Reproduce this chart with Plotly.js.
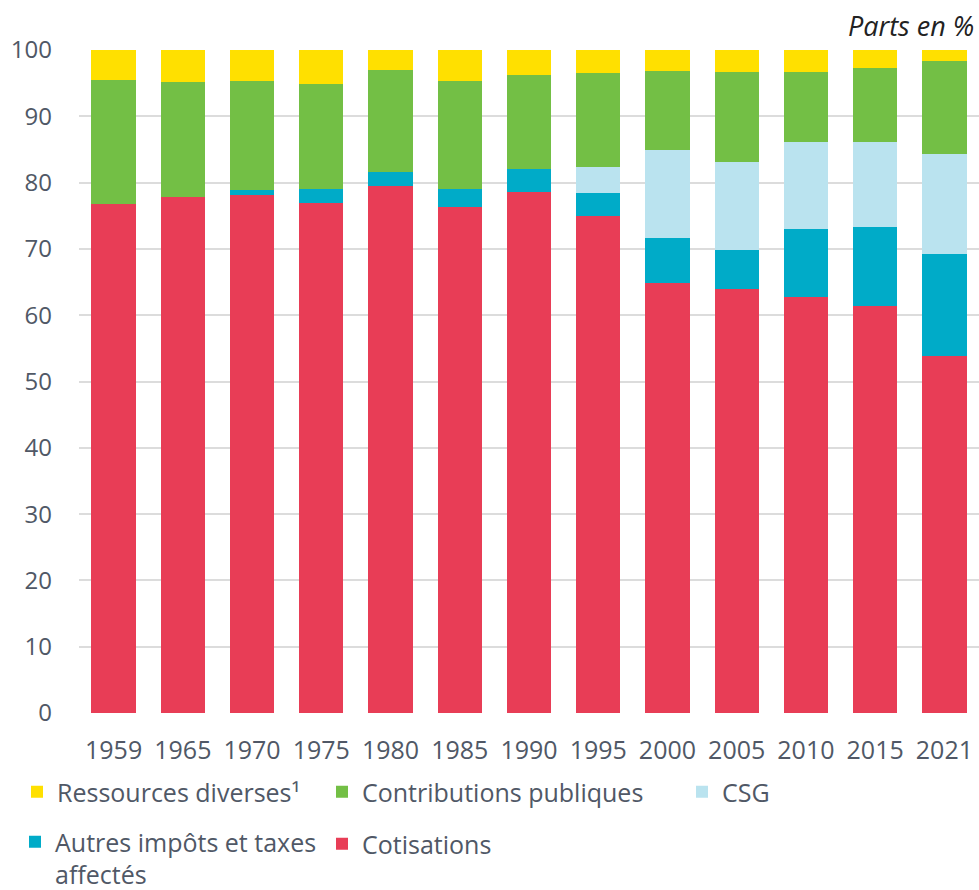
<!DOCTYPE html>
<html>
<head>
<meta charset="utf-8">
<script src="https://cdn.plot.ly/plotly-3.0.1.min.js"></script>
<style>html,body{margin:0;padding:0;background:#fff;}#chart{width:979px;height:890px;}</style>
</head>
<body>
<div id="chart"></div>
<script>
var years = ['1959','1965','1970','1975','1980','1985','1990','1995','2000','2005','2010','2015','2021'];
var cotisations = [76.7, 77.9, 78.1, 76.9, 79.5, 76.3, 78.6, 74.9, 64.9, 64.0, 62.7, 61.4, 53.9];
var autresImpots = [0, 0, 0.8, 2.2, 2.1, 2.8, 3.4, 3.5, 6.7, 5.9, 10.3, 11.9, 15.4];
var csg = [0, 0, 0, 0, 0, 0, 0, 4.0, 13.3, 13.2, 13.1, 12.8, 15.0];
var contributionsPubliques = [18.8, 17.2, 16.5, 15.8, 15.4, 16.3, 14.3, 14.1, 11.9, 13.6, 10.6, 11.2, 14.0];
var ressourcesDiverses = [4.5, 4.9, 4.6, 5.1, 3.0, 4.6, 3.7, 3.5, 3.2, 3.3, 3.3, 2.7, 1.7];

var seriesNames = ['Cotisations', 'Autres impôts et taxes<br>affectés', 'CSG', 'Contributions publiques', 'Ressources diverses¹'];
var seriesValues = [cotisations, autresImpots, csg, contributionsPubliques, ressourcesDiverses];
var seriesColors = ['#E83D56', '#00ABC8', '#BAE3EF', '#73BF45', '#FFE000'];
var seriesLegends = ['legend5', 'legend4', 'legend3', 'legend2', 'legend'];

var textColor = '#505866';
var fontFamily = '"Open Sans", sans-serif';
var font = {family: fontFamily, size: 25, color: textColor};

var traces = seriesNames.map(function (n, i) {
  return {
    type: 'bar',
    name: n,
    x: years,
    y: seriesValues[i],
    marker: {color: seriesColors[i], line: {width: 0}},
    legend: seriesLegends[i],
    showlegend: true,
    hoverinfo: 'x+y+name'
  };
});

function leg(x, y, yanchor) {
  return {
    xref: 'container', yref: 'container',
    x: x, y: y, xanchor: 'left', yanchor: yanchor,
    orientation: 'h', bgcolor: 'rgba(0,0,0,0)',
    font: font, valign: 'top', itemwidth: 30,
    traceorder: 'normal', visible: true
  };
}

var layout = {
  width: 979, height: 890,
  margin: {l: 79, r: 0, t: 50, b: 177},
  paper_bgcolor: '#fff', plot_bgcolor: '#fff',
  font: font,
  showlegend: true,
  barmode: 'stack',
  bargap: 0.36,
  xaxis: {
    type: 'category',
    showgrid: false, zeroline: false, showline: false,
    ticks: '', ticklabelstandoff: 20,
    tickfont: font
  },
  yaxis: {
    range: [0, 100], dtick: 10, tick0: 0,
    showgrid: true, gridcolor: '#dcdcdc', gridwidth: 2,
    zeroline: false, showline: false,
    ticks: '', ticklabelstandoff: 26,
    tickfont: {family: fontFamily, size: 24, color: textColor}
  },
  legend: leg(17 / 979, 1 - 792 / 890, 'middle'),
  legend2: leg(322 / 979, 1 - 792 / 890, 'middle'),
  legend3: leg(682 / 979, 1 - 792 / 890, 'middle'),
  legend4: leg(15 / 979, 1 - 819 / 890, 'top'),
  legend5: leg(322 / 979, 1 - 844 / 890, 'middle'),
  annotations: [{
    xref: 'paper', yref: 'paper', x: 1, y: 1,
    xanchor: 'right', yanchor: 'bottom', xshift: -3, yshift: 4,
    text: '<i>Parts en %</i>', showarrow: false,
    font: {family: fontFamily, size: 27, color: '#222'}
  }]
};

Plotly.newPlot('chart', traces, layout, {displayModeBar: false, staticPlot: true});
</script>
</body>
</html>
